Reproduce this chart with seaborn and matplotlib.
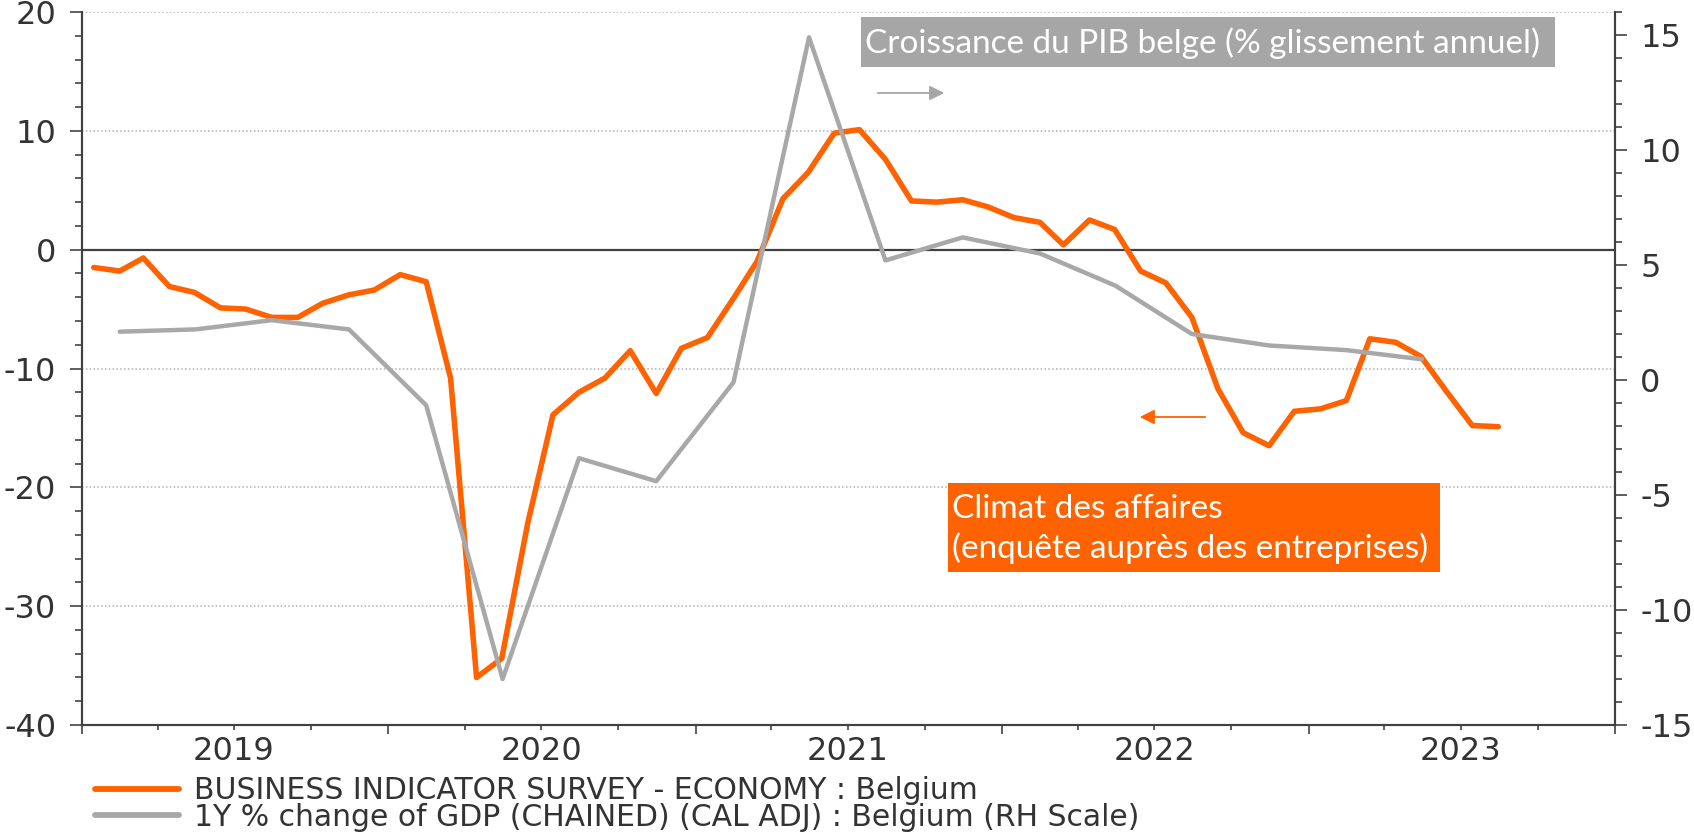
import pandas as pd
import seaborn as sns
import matplotlib.pyplot as plt
import matplotlib.dates as mdates
from matplotlib.lines import Line2D
from matplotlib.patches import Rectangle
from matplotlib.ticker import MultipleLocator, FuncFormatter, NullFormatter

# Business climate survey (monthly, left scale), Jan 2019 - Aug 2023
business = [-1.5, -1.8, -0.7, -3.1, -3.6, -4.9, -5.0, -5.7, -5.7, -4.5, -3.8, -3.4,
            -2.1, -2.7, -10.8, -36.0, -34.4, -23.0, -13.9, -12.0, -10.8, -8.5, -12.1, -8.3,
            -7.4, -4.1, -1.0, 4.3, 6.5, 9.8, 10.1, 7.6, 4.1, 4.0, 4.2, 3.6,
            2.7, 2.3, 0.4, 2.5, 1.7, -1.8, -2.8, -5.7, -11.7, -15.4, -16.5, -13.6,
            -13.4, -12.7, -7.5, -7.8, -9.0, -12.0, -14.8, -14.9]
# GDP y/y growth (quarterly, right scale), Q1 2019 - Q2 2023
gdp = [2.1, 2.2, 2.6, 2.2, -1.1, -13.0, -3.4, -4.4, -0.1, 14.9,
       5.2, 6.2, 5.5, 4.1, 2.0, 1.5, 1.3, 0.9]

months = pd.date_range('2019-01-01', periods=len(business), freq='MS') + pd.Timedelta(days=14)
quarters = pd.date_range('2019-01-01', periods=len(gdp), freq='QS') + pd.Timedelta(days=45)

label_survey = 'BUSINESS INDICATOR SURVEY - ECONOMY : Belgium'
label_gdp = '1Y % change of GDP (CHAINED) (CAL ADJ) : Belgium (RH Scale)'
note_gdp = 'Croissance du PIB belge (% glissement annuel)'
note_survey = 'Climat des affaires\n(enquête auprès des entreprises)'

ORANGE = '#FF6200'
GREY = '#A8A8A8'
DARK = '#333333'
W, H = 1694, 836

sns.set_style('ticks')
plt.rcParams['font.family'] = ['DejaVu Sans']
plt.rcParams['axes.unicode_minus'] = False


def px(x, y):
    # image pixel (top-left origin) -> figure fraction
    return x / W, 1 - y / H


fig = plt.figure(figsize=(W / 100, H / 100), dpi=100)
x0, y1 = px(82, 12)
x1, y0 = px(1615, 725)
ax = fig.add_axes([x0, y0, x1 - x0, y1 - y0])
ax2 = ax.twinx()

df_b = pd.DataFrame({'date': months, 'value': business})
df_g = pd.DataFrame({'date': quarters, 'value': gdp})

ax.axhline(0, color='#404040', lw=1.6, zorder=1)
sns.lineplot(data=df_b, x='date', y='value', ax=ax, color=ORANGE, lw=4.0, legend=False, zorder=3)
sns.lineplot(data=df_g, x='date', y='value', ax=ax2, color=GREY, lw=3.2, legend=False, zorder=3)

ax.set_xlim(pd.Timestamp('2019-01-01'), pd.Timestamp('2024-01-01'))
ax.set_ylim(-40, 20)
ax2.set_ylim(-15, 16)
for a in (ax, ax2):
    a.set_xlabel('')
    a.set_ylabel('')
    a.spines['top'].set_visible(False)
    for s in a.spines.values():
        s.set_color('#404040')
        s.set_linewidth(1.5)

ax.yaxis.set_major_locator(MultipleLocator(10))
ax.yaxis.set_minor_locator(MultipleLocator(2))
ax2.yaxis.set_major_locator(MultipleLocator(5))
ax2.yaxis.set_minor_locator(MultipleLocator(1))

ax.xaxis.set_major_locator(mdates.YearLocator())
ax.xaxis.set_major_formatter(NullFormatter())
ax.xaxis.set_minor_locator(mdates.MonthLocator(bymonth=[4, 7, 10]))
ax.xaxis.set_minor_formatter(FuncFormatter(
    lambda v, pos: mdates.num2date(v).strftime('%Y') if mdates.num2date(v).month == 7 else ''))

ax.tick_params(axis='y', which='major', length=8.6, width=1.1, pad=10, labelsize=23, colors=DARK)
ax.tick_params(axis='y', which='minor', length=5, width=1.1, colors=DARK)
ax2.tick_params(axis='y', which='major', length=8.6, width=1.1, pad=9.5, labelsize=23, colors=DARK)
ax2.tick_params(axis='y', which='minor', length=5, width=1.1, colors=DARK)
ax.tick_params(axis='x', which='major', length=6.5, width=1.1, colors=DARK)
ax.tick_params(axis='x', which='minor', length=3.6, width=1.1, pad=4, labelsize=23, colors=DARK)

ax.grid(axis='y', which='major', color='#B0B0B0', linestyle=(0, (1, 1.5)), lw=1.1)
ax.set_axisbelow(True)

# legend below the axes
handles = [Line2D([], [], color=ORANGE, lw=4.2), Line2D([], [], color=GREY, lw=4.2)]
fig.legend(handles, [label_survey, label_gdp], loc='upper left',
           bbox_to_anchor=px(95, 776), frameon=False, fontsize=21.5,
           handlelength=2.8, handletextpad=0.5, labelspacing=-0.08,
           borderpad=0, borderaxespad=0, labelcolor=DARK)

# annotation boxes
bx, by = px(861, 67)
fig.patches.append(Rectangle((bx, by), (1555 - 861) / W, 50 / H, transform=fig.transFigure,
                             facecolor='#A6A6A6', edgecolor='none', zorder=5))
fig.text(*px(865, 43), note_gdp, color='white', fontsize=24, family=['Lato', 'DejaVu Sans'],
         va='center', ha='left', zorder=6)

ox, oy = px(948, 572)
fig.patches.append(Rectangle((ox, oy), (1440 - 948) / W, 89 / H, transform=fig.transFigure,
                             facecolor=ORANGE, edgecolor='none', zorder=5))
fig.text(*px(952, 529), note_survey, color='white', fontsize=24, family=['Lato', 'DejaVu Sans'],
         va='center', ha='left', linespacing=1.3, zorder=6)

# direction arrows
ax.annotate('', xy=(947, H - 93), xytext=(875, H - 93), xycoords='figure pixels',
            textcoords='figure pixels',
            arrowprops=dict(arrowstyle='-|>', color='#A6A6A6', lw=1.3, mutation_scale=22))
ax.annotate('', xy=(1137, H - 417), xytext=(1208, H - 417), xycoords='figure pixels',
            textcoords='figure pixels',
            arrowprops=dict(arrowstyle='-|>', color=ORANGE, lw=1.3, mutation_scale=22))

fig.savefig('out.png', dpi=100)
